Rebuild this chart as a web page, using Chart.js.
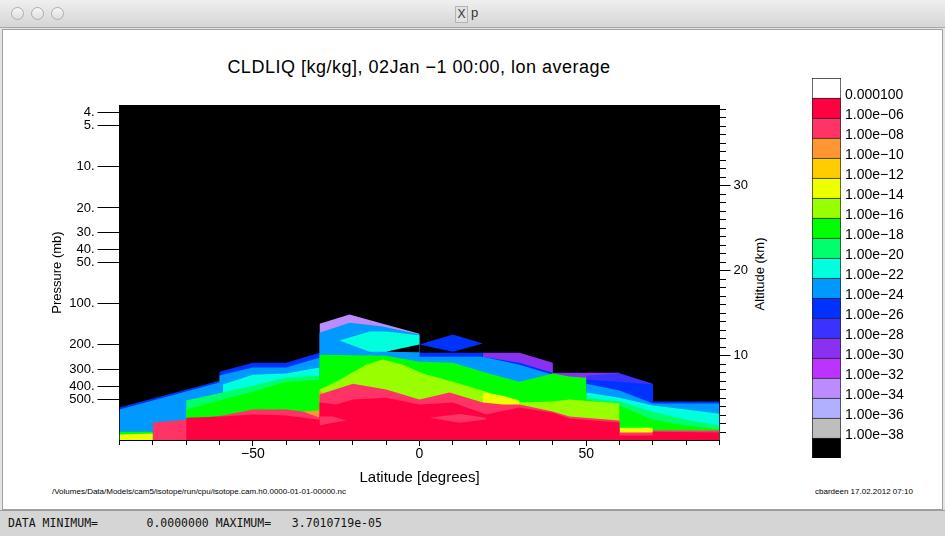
<!DOCTYPE html>
<html>
<head>
<meta charset="utf-8">
<title>p</title>
<script src="https://cdn.jsdelivr.net/npm/chart.js@4.4.1/dist/chart.umd.min.js"></script>
<style>
  body { margin: 0; width: 945px; height: 536px; overflow: hidden; position: relative;
         background: #e4e4e4; font-family: "Liberation Sans", Arial, sans-serif; }
  .abs { position: absolute; }
  #titlebar { left: 0; top: 0; width: 945px; height: 28px; box-sizing: border-box;
              background: linear-gradient(#efefef, #d5d5d5); border-bottom: 1px solid #a6a6a6; }
  .dot { top: 7px; width: 11px; height: 11px; border-radius: 50%; border: 1px solid #adadad;
         background: linear-gradient(#f6f6f6, #dedede); }
  #icon { left: 455px; top: 6px; width: 11px; height: 15px; border: 1px solid #b4b4b4; background: #e2e2e2;
          font-size: 12px; line-height: 15px; text-align: center; color: #333; }
  #wtitle { left: 471px; top: 5px; font-size: 13px; color: #333; }
  #win { left: 2px; top: 29px; width: 939px; height: 479px; background: #fff; border: 1px solid #a0a0a0; }
  #status { left: 0; top: 510px; width: 945px; height: 26px; box-sizing: border-box;
            background: #d5d5d5; border-top: 1px solid #9c9c9c; }
  #stattext { left: 8px; top: 516px; font: 11.5px "DejaVu Sans Mono", monospace; white-space: pre; color: #111; }
  #ptitle { left: 69px; top: 57px; width: 700px; text-align: center; font-size: 18px; line-height: 21px;
            letter-spacing: 0.5px; color: #000; }
  #alt { left: 700px; top: 266px; width: 120px; text-align: center; font-size: 13px; line-height: 16px;
         transform: rotate(-90deg); color: #000; }
  .foot { top: 487px; font-size: 8px; color: #000; white-space: pre; }
  canvas { position: absolute; }
</style>
</head>
<body>
<div id="titlebar" class="abs"></div>
<div class="abs dot" style="left:11px"></div>
<div class="abs dot" style="left:31px"></div>
<div class="abs dot" style="left:51px"></div>
<div id="icon" class="abs">X</div>
<div id="wtitle" class="abs">p</div>
<div id="win" class="abs"></div>
<div id="ptitle" class="abs">CLDLIQ [kg/kg], 02Jan −1 00:00, lon average</div>
<div id="alt" class="abs">Altitude (km)</div>
<div class="abs foot" style="left:52px">/Volumes/Data/Models/cam5/isotope/run/cpu/isotope.cam.h0.0000-01-01-00000.nc</div>
<div class="abs foot" style="left:815px">cbardeen 17.02.2012 07:10</div>
<div id="status" class="abs"></div>
<div id="stattext" class="abs">DATA MINIMUM=       0.0000000 MAXIMUM=   3.7010719e-05</div>
<canvas id="plot" width="945" height="482" style="left:0;top:28px"></canvas>
<canvas id="cbar" width="139" height="392" style="left:806px;top:72px"></canvas>
<script>
// axis ranges and ticks
const PMIN = 3.54, PMAX = 990;          // mb
const H = 7;                            // km, scale height for the altitude axis
const PTICKS = [4, 5, 10, 20, 30, 40, 50, 100, 200, 300, 400, 500];
const LAT_TICKS = [-90, -80, -70, -60, -50, -40, -30, -20, -10, 0, 10, 20, 30, 40, 50, 60, 70, 80, 90];
const LAT_LABELS = [-50, 0, 50];
const Z_LABELS = [10, 20, 30];

// colour levels, bottom to top of the colour bar
const CB_COLORS = ['#000000', '#bebebe', '#b0b0ff', '#bc8cff', '#bb33ff', '#8a30f0', '#3c32ff', '#0032ff',
                   '#0099ff', '#00ffdc', '#00ff6a', '#00ff00', '#99ff00', '#eeff00', '#ffcc00', '#ff9633',
                   '#ff3366', '#ff0040', '#ffffff'];
const CB_LABELS = ['1.00e−38', '1.00e−36', '1.00e−34', '1.00e−32', '1.00e−30', '1.00e−28', '1.00e−26',
                   '1.00e−24', '1.00e−22', '1.00e−20', '1.00e−18', '1.00e−16', '1.00e−14', '1.00e−12',
                   '1.00e−10', '1.00e−08', '1.00e−06', '0.000100'];

// upper edge of each level (latitude, pressure mb); filled down to the surface
const latLav = [-30, -21, -11, 0];              const pLav = [140, 120, 140, 166];
const latVio = [19, 30, 40, 40, 60];            const pVio = [228, 228, 270, 319, 319];
const latBvi = [50, 60, 70];                    const pBvi = [335, 322, 384];
const latBlu1 = [-90, -60, -60, -50, -40, -30, 19, 19, 30, 40];
const pBlu1   = [574, 365, 314, 270, 270, 228, 228, 244, 270, 319];
const latBlu2 = [50, 60, 70, 70, 90];           const pBlu2 = [359, 371, 390, 519, 519];
const latAzu1 = [-90, -60, -60, -50, -40, -30, -30, -21, -11, 0, 0, 19, 30, 40];
const pAzu1   = [594, 377, 335, 293, 293, 248, 163, 138, 147, 168, 244, 244, 279, 330];
const latAzu2 = [50, 60, 70, 90];               const pAzu2 = [384, 431, 537, 537];
// closed patches (top / bottom edge)
const latLens = [-24, -15, -10, 0];   const pLensTop = [186, 160, 160, 170];  const pLensBot = [186, 224, 224, 199];
const latWedge = [-10, 0];            const pWedgeTop = [224, 199];           const pWedgeBot = [224, 226];
const latDia = [0, 10, 19];           const pDiaTop = [199, 168, 195];        const pDiaBot = [199, 224, 195];
const latCya1 = [-59, -50, -40, -30];           const pCya1 = [390, 330, 324, 293];
const latCya2 = [50, 60, 70, 80, 90];           const pCya2 = [446, 486, 555, 594, 636];
const latSpr1 = [-70, -59, -50, -40, -30];      const pSpr1 = [510, 446, 397, 347, 335];
const latSpr2 = [50, 60, 70, 80, 90];           const pSpr2 = [486, 519, 615, 703, 777];
const latGrn1 = [-90, -80];                     const pGrn1 = [860, 860];
const latGrn2 = [-70, -59, -50, -40, -30, -30, -10, 0, 10, 20, 30, 40, 45, 50, 50, 60, 70, 80, 90];
const pGrn2   = [594, 502, 439, 371, 359, 236, 240, 265, 270, 319, 371, 324, 341, 347, 502, 555, 703, 777, 831];
const latYgr = [-30, -25, -16, -11, -5, 1, 10, 20, 30, 40, 45, 60];
const pYgr   = [424, 371, 279, 256, 279, 324, 371, 439, 528, 519, 502, 537];
const latYel1 = [-90, -80];   const pYel1 = [904, 889];
const latYel2 = [19, 25, 30]; const pYel2 = [446, 470, 510];
const latYel3 = [60, 70];     const pYel3 = [804, 804];
const latOra1 = [-80, -78];              const pOra1 = [739, 764];
const latOra2 = [-35, -30, -30, -28.5];  const pOra2 = [614, 602, 424, 470];
const latPnk = [-80, -70, -59, -50, -40, -35, -30, -30, -20, -10, 0, 9, 19, 25, 30, 40, 45, 60, 60, 70, 70, 90];
const pPnk   = [739, 703, 657, 594, 594, 614, 680, 461, 384, 424, 502, 446, 528, 546, 546, 614, 668, 714, 874, 874, 845, 845];
const latRed = [-70, -59, -50, -40, -30, -30, -25, -20, -10, 0, 10, 20, 30, 40, 45, 60, 60, 70, 70, 90];
const pRed   = [680, 668, 646, 657, 703, 528, 546, 502, 486, 546, 528, 646, 574, 625, 690, 739, 919, 919, 860, 874];
const latPIs1 = [-30, -26, -22];  const pPIs1Top = [668, 668, 714];  const pPIs1Bot = [777, 740, 714];
const latPIs2 = [3, 12, 20];      const pPIs2Top = [680, 640, 680];  const pPIs2Bot = [680, 740, 700];

function pts(lats, ps) { return lats.map((x, i) => ({x: x, y: ps[i]})); }
function pieces() {
  let out = [];
  for (let k = 0; k < arguments.length; k++) {
    const pr = arguments[k];
    if (k > 0) out.push({x: pr[0][0], y: null});
    out = out.concat(pts(pr[0], pr[1]));
  }
  return out;
}
function area(data, color, fill) {
  return { data: data, backgroundColor: color, borderWidth: 0, pointRadius: 0,
           fill: fill === undefined ? {value: PMAX} : fill };
}

const datasets = [
  area(pts([-90, 90], [PMIN, PMIN]), CB_COLORS[0]),
  area(pts(latLav, pLav), CB_COLORS[3]),
  area(pts(latVio, pVio), CB_COLORS[5]),
  area(pts(latBvi, pBvi), CB_COLORS[6]),
  area(pieces([latBlu1, pBlu1], [latBlu2, pBlu2]), CB_COLORS[7]),
  area(pieces([latAzu1, pAzu1], [latAzu2, pAzu2]), CB_COLORS[8]),
  area(pts(latLens, pLensTop), CB_COLORS[9], '+1'),
  area(pts(latLens, pLensBot), CB_COLORS[9], false),
  area(pts(latWedge, pWedgeTop), CB_COLORS[0], '+1'),
  area(pts(latWedge, pWedgeBot), CB_COLORS[0], false),
  area(pts(latDia, pDiaTop), CB_COLORS[7], '+1'),
  area(pts(latDia, pDiaBot), CB_COLORS[7], false),
  area(pieces([latCya1, pCya1], [latCya2, pCya2]), CB_COLORS[9]),
  area(pieces([latSpr1, pSpr1], [latSpr2, pSpr2]), CB_COLORS[10]),
  area(pieces([latGrn1, pGrn1], [latGrn2, pGrn2]), CB_COLORS[11]),
  area(pts(latYgr, pYgr), CB_COLORS[12]),
  area(pieces([latYel1, pYel1], [latYel2, pYel2], [latYel3, pYel3]), CB_COLORS[13]),
  area(pieces([latOra1, pOra1], [latOra2, pOra2]), CB_COLORS[15]),
  area(pts(latPnk, pPnk), CB_COLORS[16]),
  area(pts(latRed, pRed), CB_COLORS[17]),
  area(pts(latPIs1, pPIs1Top), CB_COLORS[16], '+1'),
  area(pts(latPIs1, pPIs1Bot), CB_COLORS[16], false),
  area(pts(latPIs2, pPIs2Top), CB_COLORS[16], '+1'),
  area(pts(latPIs2, pPIs2Bot), CB_COLORS[16], false)
];
// later datasets are painted on top
datasets.forEach((d, i) => { d.order = -i; });

const Z0 = H * Math.log(1000 / PMAX), Z1 = H * Math.log(1000 / PMIN);
const tickFont = {family: 'Liberation Sans', size: 13};
const minus = v => String(v).replace('-', '−');

new Chart(document.getElementById('plot'), {
  type: 'line',
  data: { datasets: datasets },
  options: {
    responsive: false, animation: false, events: [],
    layout: { padding: {left: 40, right: 175.5, top: 77, bottom: 10} },
    plugins: { legend: {display: false}, tooltip: {enabled: false} },
    scales: {
      x: {
        type: 'linear', min: -90, max: 90, position: 'bottom',
        afterBuildTicks: s => { s.ticks = LAT_TICKS.map(v => ({value: v})); },
        afterFit: s => { s.height = 60; s.paddingLeft = 0; s.paddingRight = 0; },
        ticks: { autoSkip: false, maxRotation: 0, padding: 0, color: '#000',
                 font: {family: 'Liberation Sans', size: 14},
                 callback: v => LAT_LABELS.includes(v) ? minus(v) : '' },
        grid: { drawOnChartArea: false, tickLength: 6, color: '#000',
                tickBorderDash: c => (c.tick && !LAT_LABELS.includes(c.tick.value)) ? [4, 40] : [] },
        border: { color: '#000' },
        title: { display: true, text: 'Latitude [degrees]', color: '#000',
                 font: {family: 'Liberation Sans', size: 15}, padding: {top: 0, bottom: 13} }
      },
      y: {
        type: 'logarithmic', reverse: true, min: PMIN, max: PMAX, position: 'left',
        afterBuildTicks: s => { s.ticks = PTICKS.map(v => ({value: v})); },
        afterFit: s => { s.width = 79.5; s.paddingTop = 0; s.paddingBottom = 0; },
        ticks: { autoSkip: false, padding: 3, color: '#000', font: tickFont, callback: v => v + '.' },
        grid: { drawOnChartArea: false, tickLength: 22, color: '#000' },
        border: { color: '#000' },
        title: { display: true, text: 'Pressure (mb)', color: '#000', font: tickFont, padding: {top: 10, bottom: 0} }
      },
      y2: {
        type: 'linear', min: Z0, max: Z1, position: 'right',
        afterBuildTicks: s => { const t = []; for (let z = 1; z < Z1; z++) t.push({value: z}); s.ticks = t; },
        afterFit: s => { s.width = 50; s.paddingTop = 0; s.paddingBottom = 0; },
        ticks: { autoSkip: false, padding: 3, color: '#000', font: tickFont,
                 callback: v => Z_LABELS.includes(v) ? String(v) : '' },
        grid: { drawOnChartArea: false, tickLength: 11, color: '#000',
                tickBorderDash: c => (c.tick && !Z_LABELS.includes(c.tick.value)) ? [6, 40] : [] },
        border: { color: '#000' }
      }
    }
  }
});

// colour bar
new Chart(document.getElementById('cbar'), {
  type: 'bar',
  data: {
    labels: [''],
    datasets: CB_COLORS.map(c => ({
      data: [1], backgroundColor: c, borderColor: '#222',
      borderWidth: {top: 1, left: 1, right: 1, bottom: 0}, borderSkipped: false,
      barPercentage: 1, categoryPercentage: 1
    }))
  },
  options: {
    responsive: false, animation: false, events: [],
    layout: { padding: {left: 6, right: 0, top: 6, bottom: 6} },
    plugins: { legend: {display: false}, tooltip: {enabled: false} },
    scales: {
      x: { stacked: true, display: false },
      y: {
        stacked: true, min: 0, max: CB_COLORS.length, position: 'right',
        afterBuildTicks: s => { s.ticks = CB_LABELS.map((l, i) => ({value: i + 1})); },
        afterFit: s => { s.width = 104; s.paddingTop = 0; s.paddingBottom = 0; },
        ticks: { autoSkip: false, padding: 4, labelOffset: -3, color: '#000',
                 font: {family: 'Liberation Sans', size: 14}, callback: v => CB_LABELS[v - 1] },
        grid: { display: false, drawTicks: false },
        border: { display: false }
      }
    }
  }
});
</script>
</body>
</html>
